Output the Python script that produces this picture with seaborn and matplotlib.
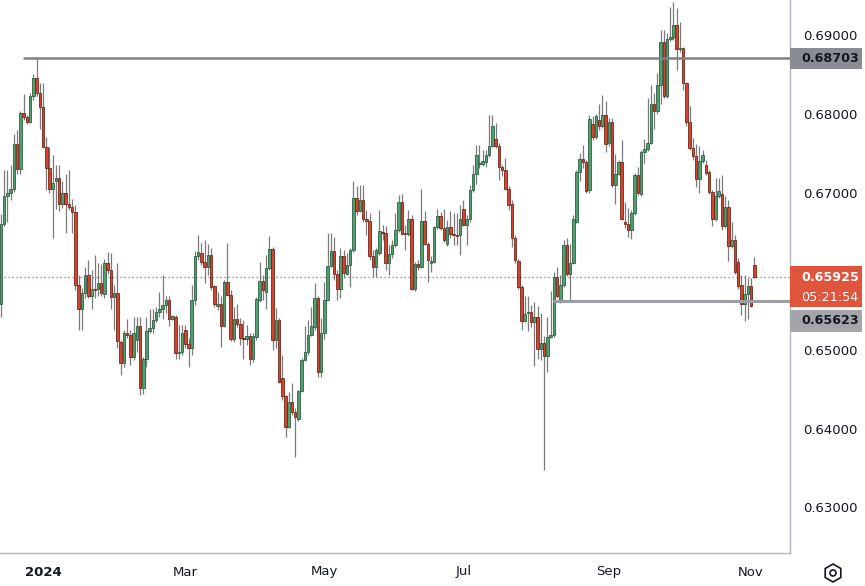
import matplotlib
matplotlib.use("Agg")
import matplotlib.pyplot as plt
import matplotlib.transforms as mtransforms
from matplotlib.patches import Rectangle, RegularPolygon, Circle
import numpy as np
import pandas as pd
import seaborn as sns

# ---------------- data (daily candles, AUD/USD style) ----------------
start_date = "2023-12-13"

open_ = [
    .6558, .6660, .6696, .6699, .6705, .6761, .6730, .6801, .6796, .6790,
    .6823, .6846, .6826, .6809, .6758, .6731, .6705, .6714, .6719, .6686,
    .6699, .6686, .6681, .6675, .6583, .6552, .6572, .6595, .6569, .6578,
    .6577, .6585, .6571, .6610, .6602, .6567, .6572, .6510, .6483, .6521,
    .6519, .6491, .6513, .6530, .6452, .6488, .6524, .6528, .6538, .6548,
    .6552, .6557, .6564, .6540, .6542, .6496, .6498, .6526, .6507, .6503,
    .6564, .6619, .6623, .6612, .6606, .6621, .6581, .6556, .6559, .6531,
    .6586, .6570, .6514, .6539, .6533, .6515, .6514, .6518, .6489, .6517,
    .6564, .6588, .6574, .6604, .6628, .6513, .6538, .6464, .6441, .6402,
    .6434, .6421, .6412, .6448, .6487, .6497, .6519, .6529, .6566, .6472,
    .6522, .6564, .6607, .6626, .6597, .6578, .6619, .6597, .6608, .6627,
    .6693, .6677, .6691, .6667, .6664, .6619, .6606, .6623, .6650, .6649,
    .6610, .6622, .6633, .6652, .6688, .6648, .6647, .6666, .6578, .6609,
    .6606, .6664, .6635, .6610, .6612, .6656, .6670, .6655, .6634, .6656,
    .6647, .6646, .6646, .6679, .6659, .6666, .6703, .6724, .6736, .6736,
    .6739, .6748, .6759, .6768, .6759, .6733, .6729, .6705, .6686, .6642,
    .6613, .6580, .6537, .6547, .6548, .6536, .6542, .6501, .6509, .6493,
    .6517, .6519, .6593, .6564, .6583, .6633, .6597, .6610, .6663, .6726,
    .6743, .6739, .6703, .6787, .6770, .6792, .6784, .6798, .6763, .6789,
    .6710, .6724, .6739, .6662, .6660, .6652, .6674, .6722, .6698, .6751,
    .6755, .6763, .6813, .6803, .6837, .6891, .6822, .6895, .6898, .6913,
    .6882, .6884, .6839, .6789, .6756, .6746, .6717, .6740, .6735, .6726,
    .6701, .6666, .6695, .6698, .6657, .6681, .6632, .6640, .6612, .6583,
    .6559, .6571, .6581, .6608,
]

high_ = [
    .6673, .6729, .6729, .6735, .6774, .6779, .6804, .6825, .6798, .6826,
    .6851, .68703, .6839, .6839, .6770, .6758, .6748, .6735, .6735, .6714,
    .6724, .6729, .6692, .6684, .6595, .6579, .6605, .6614, .6602, .6621,
    .6610, .6609, .6616, .6624, .6623, .6583, .6610, .6513, .6525, .6540,
    .6525, .6542, .6542, .6542, .6491, .6542, .6552, .6552, .6555, .6574,
    .6595, .6569, .6568, .6544, .6544, .6532, .6532, .6532, .6515, .6582,
    .6626, .6646, .6636, .6640, .6635, .6629, .6583, .6574, .6568, .6589,
    .6636, .6576, .6555, .6559, .6541, .6538, .6532, .6522, .6522, .6567,
    .6612, .6595, .6621, .6645, .6631, .6553, .6541, .6494, .6443, .6447,
    .6458, .6426, .6449, .6490, .6530, .6538, .6554, .6585, .6568, .6541,
    .6587, .6648, .6648, .6644, .6602, .6629, .6627, .6623, .6629, .6714,
    .6708, .6710, .6710, .6678, .6674, .6627, .6630, .6678, .6659, .6657,
    .6633, .6640, .6674, .6697, .6698, .6659, .6678, .6671, .6612, .6614,
    .6704, .6676, .6637, .6619, .6657, .6679, .6675, .6679, .6665, .6676,
    .6674, .6674, .6684, .6690, .6671, .6710, .6735, .6760, .6760, .6754,
    .6754, .6798, .6798, .6788, .6763, .6735, .6744, .6708, .6691, .6646,
    .6616, .6583, .6569, .6569, .6557, .6561, .6556, .6547, .6518, .6542,
    .6575, .6599, .6606, .6595, .6640, .6642, .6635, .6671, .6729, .6750,
    .6760, .6741, .6798, .6797, .6800, .6812, .6824, .6816, .6795, .6795,
    .6749, .6741, .6767, .6688, .6680, .6678, .6725, .6733, .6754, .6768,
    .6820, .6837, .6826, .6852, .6906, .6907, .6903, .6936, .6942, .6934,
    .6916, .6885, .6840, .6810, .6769, .6762, .6759, .6754, .6741, .6729,
    .6703, .6718, .6718, .6722, .6695, .6691, .6662, .6646, .6617, .6595,
    .6595, .6592, .6591, .6618,
]

low_ = [
    .6542, .6657, .6663, .6691, .6701, .6724, .6724, .6792, .6787, .6788,
    .6818, .6822, .6781, .6757, .6703, .6699, .6642, .6679, .6677, .6680,
    .6648, .6678, .6649, .6576, .6526, .6526, .6566, .6566, .6552, .6566,
    .6568, .6568, .6566, .6597, .6552, .6525, .6503, .6468, .6479, .6515,
    .6481, .6487, .6497, .6443, .6444, .6478, .6521, .6521, .6536, .6542,
    .6540, .6547, .6530, .6538, .6488, .6488, .6494, .6503, .6478, .6494,
    .6557, .6614, .6608, .6585, .6595, .6576, .6555, .6551, .6504, .6529,
    .6568, .6511, .6510, .6529, .6506, .6489, .6506, .6481, .6485, .6513,
    .6561, .6564, .6552, .6602, .6500, .6502, .6458, .6437, .6390, .6401,
    .6417, .6364, .6410, .6447, .6486, .6494, .6518, .6525, .6466, .6466,
    .6514, .6563, .6605, .6589, .6564, .6566, .6591, .6595, .6580, .6624,
    .6671, .6675, .6663, .6646, .6614, .6593, .6593, .6621, .6640, .6602,
    .6595, .6617, .6631, .6650, .6646, .6627, .6645, .6576, .6575, .6602,
    .6604, .6633, .6587, .6599, .6610, .6654, .6652, .6637, .6632, .6642,
    .6633, .6633, .6621, .6657, .6633, .6663, .6701, .6711, .6731, .6734,
    .6733, .6745, .6758, .6757, .6716, .6721, .6703, .6678, .6631, .6610,
    .6578, .6525, .6535, .6524, .6529, .6480, .6488, .6487, .6348, .6472,
    .6515, .6516, .6566, .6560, .6580, .6594, .65623, .6609, .6661, .6714,
    .6731, .6699, .6699, .6767, .6768, .6779, .6782, .6752, .6759, .6707,
    .6686, .6722, .6665, .6655, .6644, .6641, .6671, .6697, .6696, .6738,
    .6753, .6762, .6781, .6800, .6813, .6820, .6820, .6892, .6894, .6856,
    .6878, .6830, .6784, .6754, .6741, .6707, .6700, .6738, .6722, .6698,
    .6657, .6664, .6693, .6652, .6655, .6613, .6630, .6597, .6578, .6544,
    .6537, .6540, .6554, .6591,
]

close_ = [
    .6660, .6696, .6699, .6705, .6761, .6730, .6801, .6796, .6790, .6823,
    .6846, .6826, .6809, .6758, .6731, .6705, .6712, .6719, .6686, .6699,
    .6686, .6681, .6675, .6583, .6552, .6572, .6595, .6569, .6578, .6576,
    .6585, .6573, .6610, .6602, .6567, .6572, .6511, .6483, .6522, .6519,
    .6491, .6522, .6530, .6452, .6488, .6524, .6528, .6538, .6548, .6552,
    .6557, .6564, .6540, .6543, .6496, .6498, .6521, .6507, .6503, .6564,
    .6619, .6625, .6612, .6606, .6621, .6580, .6559, .6559, .6531, .6587,
    .6570, .6514, .6539, .6533, .6515, .6514, .6518, .6489, .6518, .6565,
    .6588, .6576, .6604, .6628, .6513, .6538, .6459, .6441, .6402, .6434,
    .6421, .6415, .6448, .6487, .6497, .6519, .6530, .6566, .6472, .6522,
    .6564, .6607, .6626, .6597, .6578, .6619, .6598, .6608, .6627, .6693,
    .6677, .6691, .6667, .6664, .6619, .6606, .6627, .6651, .6648, .6610,
    .6622, .6633, .6652, .6688, .6647, .6647, .6666, .6578, .6609, .6606,
    .6664, .6635, .6614, .6613, .6656, .6670, .6655, .6640, .6656, .6647,
    .6646, .6645, .6667, .6659, .6666, .6703, .6724, .6748, .6737, .6740,
    .6748, .6759, .6784, .6759, .6733, .6728, .6705, .6684, .6642, .6614,
    .6580, .6537, .6546, .6548, .6536, .6542, .6501, .6509, .6493, .6517,
    .6519, .6593, .6569, .6583, .6633, .6597, .6610, .6667, .6726, .6743,
    .6739, .6702, .6793, .6770, .6797, .6784, .6798, .6761, .6789, .6710,
    .6724, .6739, .6667, .6660, .6652, .6674, .6722, .6700, .6751, .6755,
    .6763, .6813, .6803, .6837, .6891, .6822, .6895, .6897, .6913, .6882,
    .6884, .6839, .6790, .6756, .6746, .6717, .6740, .6748, .6725, .6701,
    .6666, .6695, .6702, .6657, .6681, .6632, .6640, .6599, .6581, .6559,
    .6571, .6581, .6556, .65925,
]

level_top = 0.68703
level_low = 0.65623
last_price = 0.65925
countdown = "05:21:54"
price_ticks = [0.63, 0.64, 0.65, 0.67, 0.68, 0.69]
month_starts = ["2024-01-01", "2024-03-01", "2024-05-01", "2024-07-01", "2024-09-01", "2024-11-01"]
month_labels = ["2024", "Mar", "May", "Jul", "Sep", "Nov"]

# ---------------- styling ----------------
sns.set_theme(style="white")
plt.rcParams["font.family"] = ["DejaVu Sans"]

UP_FILL, UP_EDGE = "#4f9f6f", "#24583a"
DN_FILL, DN_EDGE = "#d0452f", "#6a1e12"
WICK = "#7a7a7a"
TXT = "#131722"
AXLINE = "#b2b5be"

n = len(close_)
df = pd.DataFrame({
    "date": pd.bdate_range(start_date, periods=n),
    "open": open_, "high": high_, "low": low_, "close": close_,
})
df["idx"] = np.arange(n)
df["up"] = df["close"] >= df["open"]
df["bottom"] = df[["open", "close"]].min(axis=1)
df["height"] = (df["close"] - df["open"]).abs().clip(lower=0.00005)

W, H = 865, 586
fig = plt.figure(figsize=(W / 100, H / 100), dpi=100)
fig.patch.set_facecolor("white")
ax = fig.add_axes([0, 33 / H, 790 / W, 553 / H])
ax.set_facecolor("white")

ymin, ymax = 0.62422, 0.69445
xmin, xmax = -0.31, 244.04
ax.set_xlim(xmin, xmax)
ax.set_ylim(ymin, ymax)

# wicks
ax.vlines(df["idx"], df["low"], df["high"], color=WICK, lw=0.9, zorder=2)
# bodies
for up, fill, edge in [(True, UP_FILL, UP_EDGE), (False, DN_FILL, DN_EDGE)]:
    d = df[df["up"] == up]
    ax.bar(d["idx"], d["height"], bottom=d["bottom"], width=0.78,
           color=fill, edgecolor=edge, linewidth=0.55, zorder=3)

# horizontal levels
ax.hlines(level_top, 6.8, xmax, color="#7f8089", lw=1.8, zorder=4)
ax.hlines(level_low, 170.8, xmax, color="#9d9fa6", lw=2.2, zorder=4)
ax.axhline(last_price, color="#e0533d", lw=0.9, ls=(0, (1, 2.2)), zorder=1)

# axes / ticks
for s in ["top", "left"]:
    ax.spines[s].set_visible(False)
for s in ["right", "bottom"]:
    ax.spines[s].set_color(AXLINE)
    ax.spines[s].set_linewidth(1.0)

ax.yaxis.tick_right()
ax.set_yticks(price_ticks)
ax.set_yticklabels([f"{v:.5f}" for v in price_ticks])
ax.tick_params(axis="y", length=0, pad=9.5, labelsize=9.5, labelcolor=TXT)

tick_idx = [int(df.index[df["date"] >= pd.Timestamp(m)][0]) for m in month_starts]
ax.set_xticks(tick_idx)
ax.set_xticklabels(month_labels)
ax.tick_params(axis="x", length=0, pad=9, labelsize=9.5, labelcolor=TXT)
ax.get_xticklabels()[0].set_fontweight("bold")
ax.grid(False)

# price label boxes on the right scale
trans = mtransforms.blended_transform_factory(ax.transAxes, ax.transData)
pp = (ymax - ymin) / 553.0
bw = 72 / 790.0
tx = 801 / 790.0

def label_box(y_center, h_px, color, txt_color, text):
    ax.add_patch(Rectangle((1.0, y_center - h_px / 2 * pp), bw, h_px * pp,
                           transform=trans, clip_on=False, facecolor=color,
                           edgecolor="none", zorder=6))
    ax.text(tx, y_center, text, transform=trans, ha="left", va="center",
            fontsize=9.2, color=txt_color, fontweight="bold", clip_on=False, zorder=7)

label_box(level_top, 21, "#8a8c93", TXT, f"{level_top:.5f}")
# red live price + countdown
ax.add_patch(Rectangle((1.0, last_price - 30 * pp), bw, 41 * pp, transform=trans,
                       clip_on=False, facecolor="#e0533d", edgecolor="none", zorder=6))
ax.text(tx, last_price, f"{last_price:.5f}", transform=trans, ha="left", va="center",
        fontsize=9.2, color="white", fontweight="bold", clip_on=False, zorder=7)
ax.text(tx, last_price - 20 * pp, countdown, transform=trans, ha="left", va="center",
        fontsize=9.2, color="white", clip_on=False, zorder=7)
# gray level label (pushed below live price box)
label_box(level_low - 20 * pp, 22, "#a3a5ab", TXT, f"{level_low:.5f}")

# settings icon bottom-right
fig.add_artist(RegularPolygon((8.33, (H - 573) / 100), numVertices=6, radius=0.09,
                              orientation=0, transform=fig.dpi_scale_trans,
                              facecolor="none", edgecolor=TXT, lw=1.2))
fig.add_artist(Circle((8.33, (H - 573) / 100), radius=0.03,
                      transform=fig.dpi_scale_trans, facecolor="none",
                      edgecolor=TXT, lw=1.2))

fig.savefig("out.png", dpi=100, facecolor="white")
